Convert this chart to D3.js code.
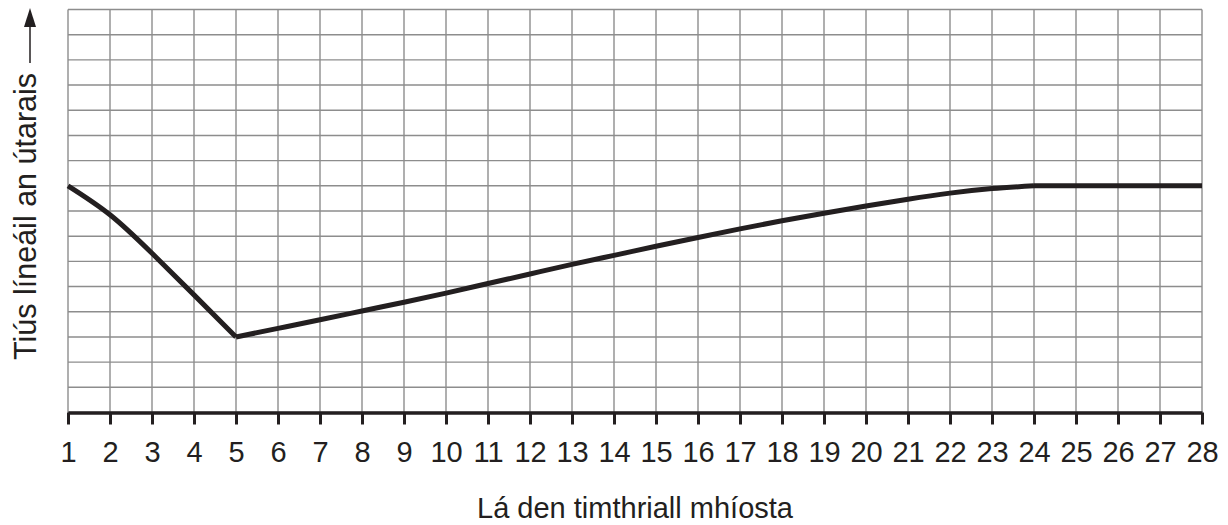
<!DOCTYPE html>
<html>

<head>
    <meta charset="utf-8">
    <style>
        body {
            margin: 0;
            background: #fff;
        }

        svg {
            font-family: 'Liberation Sans', Arial, sans-serif;
        }

        .grid line {
            stroke: #8d8d8d;
            stroke-width: 1.4;
        }

        .x .tick line {
            stroke: #231f20;
            stroke-width: 3;
        }

        .x .domain {
            stroke: #231f20;
            stroke-width: 3.5;
        }

        .x .tick text {
            font-size: 29px;
            fill: #231f20;
        }

        .axis-label {
            font-size: 29px;
            fill: #231f20;
        }

        .y-label {
            font-size: 30.5px;
            fill: #231f20;
        }
    </style>
</head>

<body>
    <svg width="1228" height="525"></svg>

    <script src="https://d3js.org/d3.v7.min.js"></script>
    <script>
        // days of the cycle
        let days = d3.range(1, 29)

        // endometrium thickness, in grid units (0 to 16)
        let thickness = [
            9.0, 7.85, 6.32, 4.67, 3.0,
            3.34, 3.68, 4.03, 4.38, 4.74,
            5.12, 5.50, 5.88, 6.24, 6.60,
            6.95, 7.29, 7.61, 7.91, 8.20,
            8.47, 8.71, 8.89, 9.0, 9.0,
            9.0, 9.0, 9.0
        ]

        let gridRows = d3.range(0, 17)

        let xTitle = "Lá den timthriall mhíosta"
        let yTitle = "Tiús líneáil an útarais"

        let margin = { top: 9.5, right: 26, bottom: 112.5, left: 68 }
        let width = 1228
        let height = 525

        let svg = d3.select("svg")

        let x = d3.scaleLinear()
            .domain([1, 28])
            .range([margin.left, width - margin.right])

        let y = d3.scaleLinear()
            .domain([0, 16])
            .range([height - margin.bottom, margin.top])

        // grid
        let grid = svg.append("g").attr("class", "grid")

        grid.selectAll(".v")
            .data(days)
            .join("line")
            .attr("class", "v")
            .attr("x1", d => x(d))
            .attr("x2", d => x(d))
            .attr("y1", y(0))
            .attr("y2", y(16))

        grid.selectAll(".h")
            .data(gridRows)
            .join("line")
            .attr("class", "h")
            .attr("x1", x(1))
            .attr("x2", x(28))
            .attr("y1", d => y(d))
            .attr("y2", d => y(d))

        // x axis
        let xAxisSettings = d3.axisBottom(x)
            .tickValues(days)
            .tickSize(12)
            .tickSizeOuter(0)
            .tickPadding(17)
            .tickFormat(d3.format("d"))

        svg.append("g")
            .attr("class", "x axis")
            .attr("transform", `translate(0,${y(0)})`)
            .call(xAxisSettings)

        // the curve: falling part, then rising part
        let data = days.map((d, i) => ({ day: d, value: thickness[i] }))
        let low = d3.minIndex(data, d => d.value)

        let line = d3.line()
            .x(d => x(d.day))
            .y(d => y(d.value))
            .curve(d3.curveNatural)

        svg.append("g")
            .selectAll("path")
            .data([data.slice(0, low + 1), data.slice(low, 24), data.slice(23)])
            .join("path")
            .attr("fill", "none")
            .attr("stroke", "#231f20")
            .attr("stroke-width", 5)
            .attr("stroke-linejoin", "round")
            .attr("d", line)

        // x title
        svg.append("text")
            .attr("class", "axis-label")
            .attr("x", (x(1) + x(28)) / 2)
            .attr("y", 518)
            .attr("text-anchor", "middle")
            .text(xTitle)

        // y title with arrow
        let yLab = svg.append("g")
            .attr("transform", "translate(36,360) rotate(-90)")

        let yText = yLab.append("text")
            .attr("class", "y-label")
            .attr("x", 0)
            .attr("y", 0)
            .text(yTitle)

        let len = yText.node().getComputedTextLength()

        yLab.append("line")
            .attr("x1", len + 10)
            .attr("x2", 335)
            .attr("y1", -6)
            .attr("y2", -6)
            .attr("stroke", "#231f20")
            .attr("stroke-width", 1.5)

        yLab.append("path")
            .attr("d", "M352,-6 L333,-12 L333,0 Z")
            .attr("fill", "#231f20")
    </script>
</body>

</html>
